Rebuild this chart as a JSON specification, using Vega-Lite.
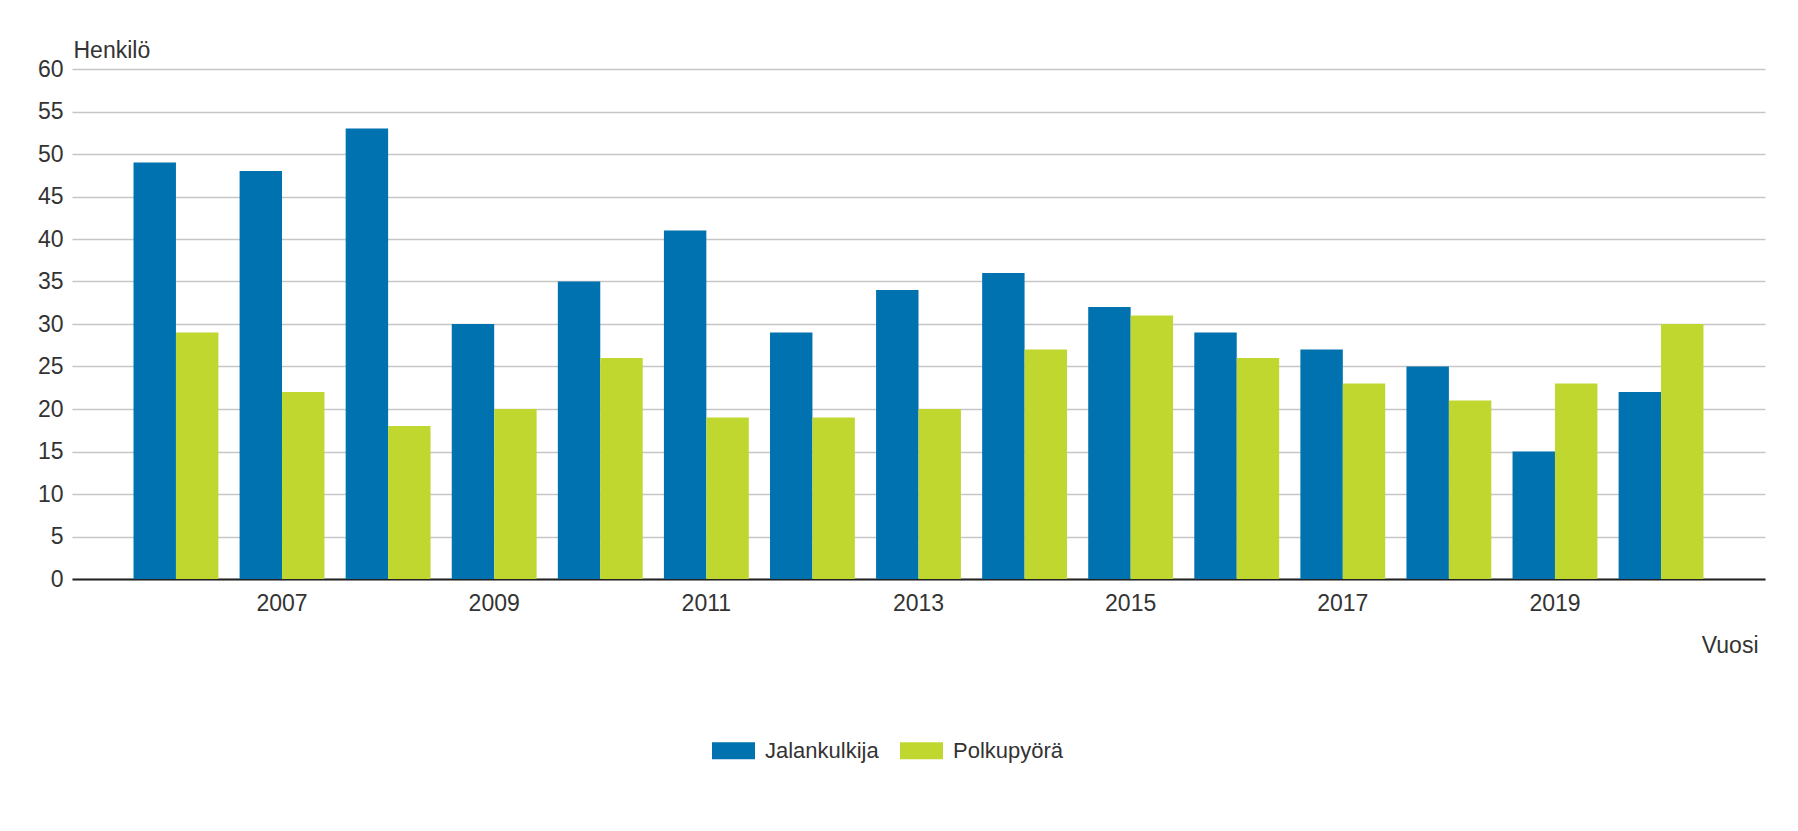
{
  "$schema": "https://vega.github.io/schema/vega-lite/v6.json",
  "width": 1693,
  "height": 510,
  "autosize": {"type": "none"},
  "padding": {"left": 72, "top": 69, "right": 33, "bottom": 252},
  "background": "#ffffff",
  "config": {
    "font": "Liberation Sans",
    "view": {"stroke": null},
    "axis": {"labelColor": "#333333", "titleColor": "#333333", "labelFont": "Liberation Sans", "titleFont": "Liberation Sans"},
    "legend": {"labelFont": "Liberation Sans"}
  },
  "data": {
    "values": [
      {"vuosi": 2006, "sarja": "Jalankulkija", "henkilo": 49},
      {"vuosi": 2006, "sarja": "Polkupyörä", "henkilo": 29},
      {"vuosi": 2007, "sarja": "Jalankulkija", "henkilo": 48},
      {"vuosi": 2007, "sarja": "Polkupyörä", "henkilo": 22},
      {"vuosi": 2008, "sarja": "Jalankulkija", "henkilo": 53},
      {"vuosi": 2008, "sarja": "Polkupyörä", "henkilo": 18},
      {"vuosi": 2009, "sarja": "Jalankulkija", "henkilo": 30},
      {"vuosi": 2009, "sarja": "Polkupyörä", "henkilo": 20},
      {"vuosi": 2010, "sarja": "Jalankulkija", "henkilo": 35},
      {"vuosi": 2010, "sarja": "Polkupyörä", "henkilo": 26},
      {"vuosi": 2011, "sarja": "Jalankulkija", "henkilo": 41},
      {"vuosi": 2011, "sarja": "Polkupyörä", "henkilo": 19},
      {"vuosi": 2012, "sarja": "Jalankulkija", "henkilo": 29},
      {"vuosi": 2012, "sarja": "Polkupyörä", "henkilo": 19},
      {"vuosi": 2013, "sarja": "Jalankulkija", "henkilo": 34},
      {"vuosi": 2013, "sarja": "Polkupyörä", "henkilo": 20},
      {"vuosi": 2014, "sarja": "Jalankulkija", "henkilo": 36},
      {"vuosi": 2014, "sarja": "Polkupyörä", "henkilo": 27},
      {"vuosi": 2015, "sarja": "Jalankulkija", "henkilo": 32},
      {"vuosi": 2015, "sarja": "Polkupyörä", "henkilo": 31},
      {"vuosi": 2016, "sarja": "Jalankulkija", "henkilo": 29},
      {"vuosi": 2016, "sarja": "Polkupyörä", "henkilo": 26},
      {"vuosi": 2017, "sarja": "Jalankulkija", "henkilo": 27},
      {"vuosi": 2017, "sarja": "Polkupyörä", "henkilo": 23},
      {"vuosi": 2018, "sarja": "Jalankulkija", "henkilo": 25},
      {"vuosi": 2018, "sarja": "Polkupyörä", "henkilo": 21},
      {"vuosi": 2019, "sarja": "Jalankulkija", "henkilo": 15},
      {"vuosi": 2019, "sarja": "Polkupyörä", "henkilo": 23},
      {"vuosi": 2020, "sarja": "Jalankulkija", "henkilo": 22},
      {"vuosi": 2020, "sarja": "Polkupyörä", "henkilo": 30}
    ]
  },
  "mark": {"type": "bar"},
  "encoding": {
    "x": {
      "field": "vuosi",
      "type": "ordinal",
      "scale": {"paddingInner": 0.2, "paddingOuter": 0.58},
      "axis": {
        "values": [2007, 2009, 2011, 2013, 2015, 2017, 2019],
        "labelAngle": 0,
        "labelFontSize": 23,
        "labelPadding": 13,
        "ticks": false,
        "grid": false,
        "domainColor": "#222222",
        "domainWidth": 2,
        "title": "Vuosi",
        "titleFontSize": 23,
        "titleFontWeight": "normal",
        "titleAlign": "right",
        "titleBaseline": "alphabetic",
        "titleAnchor": null,
        "titleX": 1686,
        "titleY": 73
      }
    },
    "xOffset": {
      "field": "sarja",
      "type": "nominal",
      "sort": ["Jalankulkija", "Polkupyörä"],
      "scale": {"paddingInner": 0, "paddingOuter": 0}
    },
    "y": {
      "field": "henkilo",
      "type": "quantitative",
      "scale": {"domain": [0, 60], "nice": false},
      "axis": {
        "values": [0, 5, 10, 15, 20, 25, 30, 35, 40, 45, 50, 55, 60],
        "labelFontSize": 23,
        "labelPadding": 9,
        "ticks": false,
        "domain": false,
        "gridColor": "#c6c6c6",
        "gridWidth": 1.5,
        "title": "Henkilö",
        "titleFontSize": 23,
        "titleFontWeight": "normal",
        "titleAngle": 0,
        "titleAlign": "left",
        "titleBaseline": "alphabetic",
        "titleAnchor": null,
        "titleX": 1,
        "titleY": -12
      }
    },
    "color": {
      "field": "sarja",
      "type": "nominal",
      "scale": {"domain": ["Jalankulkija", "Polkupyörä"], "range": ["#0072b0", "#c0d72f"]},
      "legend": {
        "title": null,
        "orient": "none",
        "direction": "horizontal",
        "legendX": 640,
        "legendY": 660,
        "padding": 0,
        "symbolType": "M-1,-0.395L1,-0.395L1,0.395L-1,0.395Z",
        "symbolSize": 1849,
        "symbolStrokeWidth": 0,
        "symbolOpacity": 1,
        "labelFontSize": 22,
        "labelColor": "#333333",
        "labelOffset": 10,
        "columnPadding": 21
      }
    }
  }
}
